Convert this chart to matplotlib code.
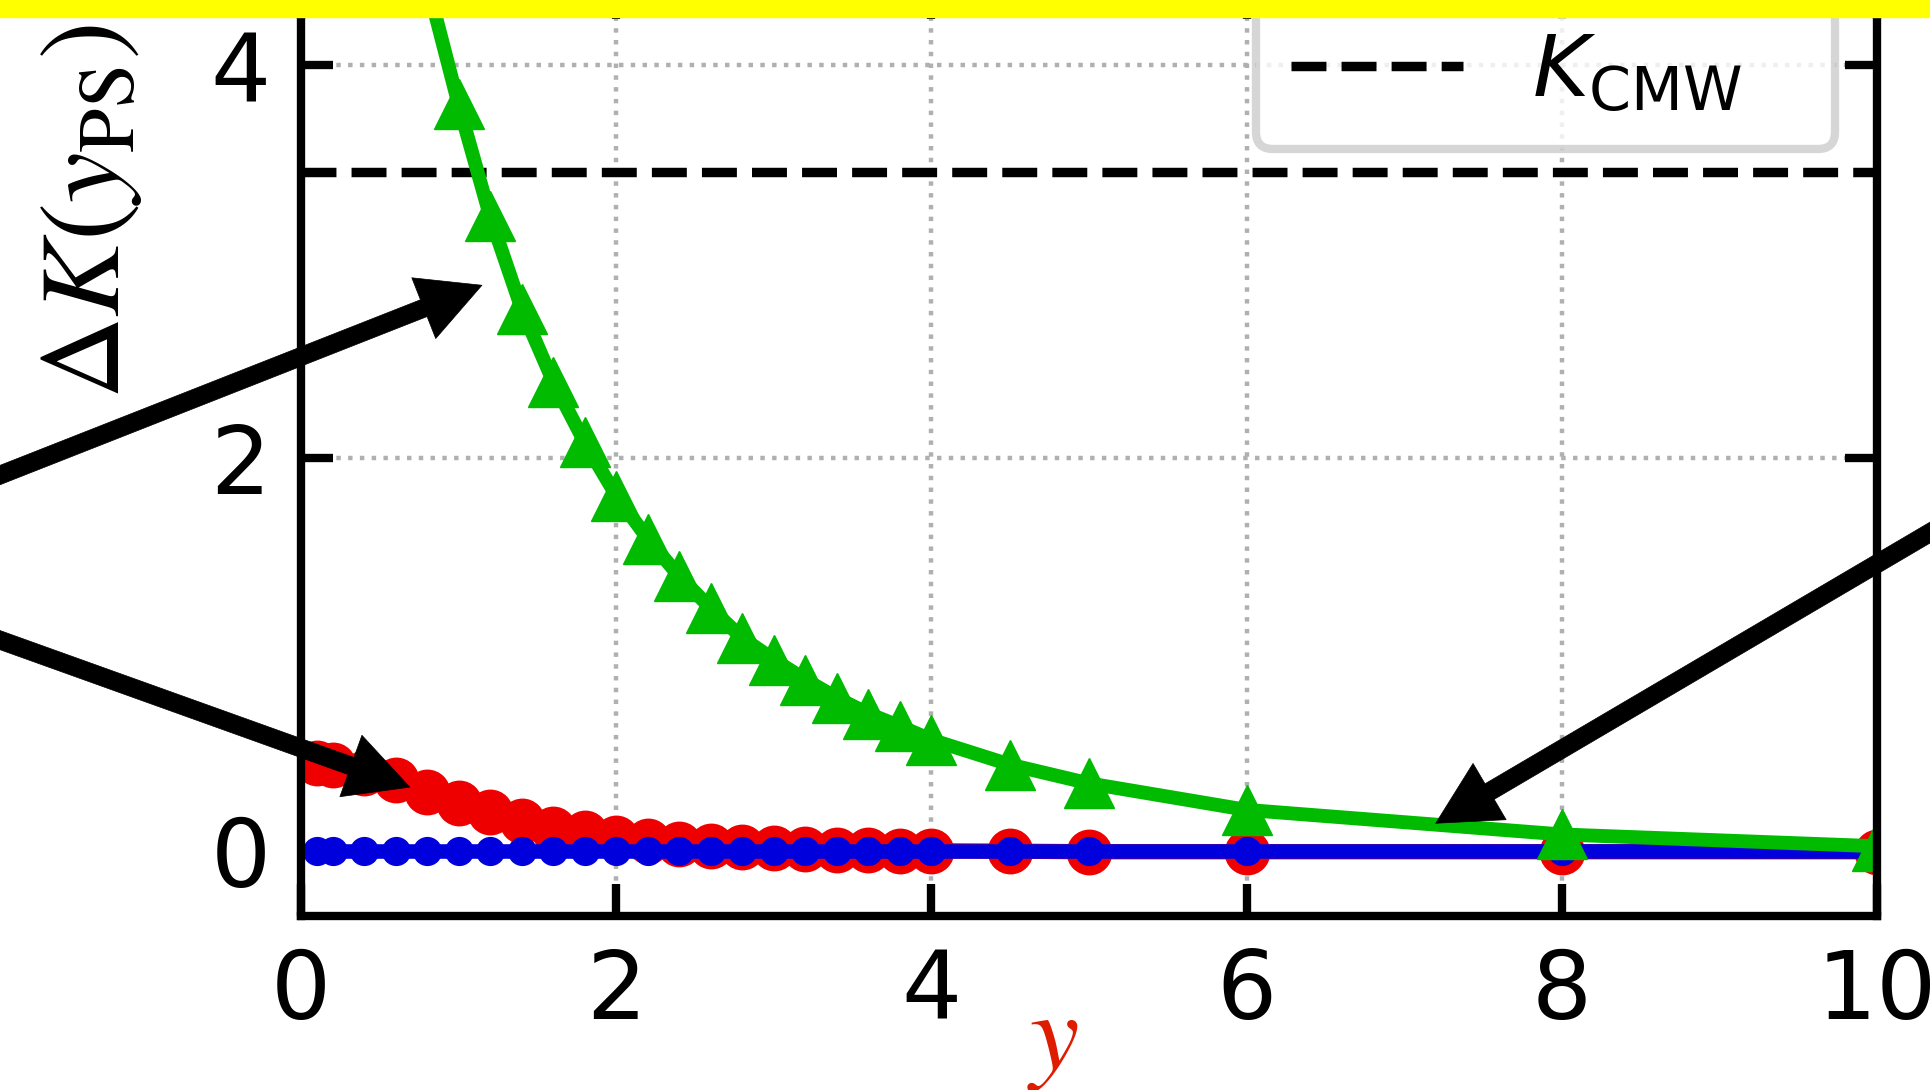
import matplotlib
matplotlib.use("Agg")
import matplotlib.pyplot as plt
from matplotlib.patches import Rectangle

# ---- data -------------------------------------------------------------
y_grid = [0.1, 0.2, 0.4, 0.6, 0.8, 1.0, 1.2, 1.4, 1.6, 1.8, 2.0, 2.2, 2.4,
          2.6, 2.8, 3.0, 3.2, 3.4, 3.6, 3.8, 4.0, 4.5, 5.0, 6.0, 8.0, 10.0]
dk_red = [0.45, 0.44, 0.40, 0.36, 0.30, 0.245, 0.20, 0.155, 0.115, 0.09,
          0.067, 0.052, 0.036, 0.028, 0.021, 0.016, 0.011, 0.008, 0.005,
          0.003, 0.002, 0.0, -0.003, -0.003, -0.003, -0.003]
dk_blue = [0.0] * len(y_grid)

y_green = [0.8, 1.0, 1.2, 1.4, 1.6, 1.8, 2.0, 2.2, 2.4, 2.6, 2.8, 3.0, 3.2,
           3.4, 3.6, 3.8, 4.0, 4.5, 5.0, 6.0, 8.0, 10.0]
dk_green = [4.42, 3.80, 3.23, 2.76, 2.39, 2.08, 1.81, 1.59, 1.40, 1.236,
            1.085, 0.975, 0.873, 0.78, 0.70, 0.636, 0.567, 0.44, 0.345,
            0.21, 0.085, 0.025]

K_CMW = 3.454

x_ticks = [0, 2, 4, 6, 8, 10]
y_ticks = [0, 2, 4]

# arrow tips (data) and tails (figure pixels, off-canvas)
arrow_tips = [(1.148, 2.880), (0.690, 0.326), (7.200, 0.142)]
arrow_tails = [(-400, 457.4), (-400, 593.4), (2331, 793.2)]

# ---- figure -----------------------------------------------------------
W, H = 1931, 1090
fig = plt.figure(figsize=(W / 100, H / 100), dpi=100)
fig.patch.set_facecolor("white")

ax = fig.add_axes([301 / W, 174 / H, 1576 / W, 929.4 / H])
ax.set_xlim(0, 10)
ax.set_ylim(-0.33, 4.4)

RED = "#ee0000"
BLUE = "#0000dd"
GREEN = "#00bb00"

kline, = ax.plot([0, 10], [K_CMW, K_CMW], ls="--", color="k", lw=6.8,
                 label=r"$K_{\rm CMW}$")
ax.plot(y_grid, dk_red, color=RED, lw=11, marker="o", ms=32, mec=RED)
ax.plot(y_grid, dk_blue, color=BLUE, lw=10.5, marker="o", ms=20, mec=BLUE)
ax.plot(y_green, dk_green, color=GREEN, lw=10, marker="^", ms=36, mec=GREEN)

ax.set_xticks(x_ticks)
ax.set_yticks(y_ticks)
ax.grid(True, ls=":", color="#b0b0b0", lw=3.2)
ax.tick_params(direction="in", length=23, width=6, labelsize=68, pad=22,
               top=True, right=True)
for sp in ax.spines.values():
    sp.set_linewidth(6)

ax.set_ylabel(r"$\Delta K(y_{\rm PS})$", fontsize=82, math_fontfamily="stix")
ax.yaxis.set_label_coords(-0.0996, 0.7575)
ax.set_xlabel(r"$y$", fontsize=80, color="#dd1c00", math_fontfamily="stix")
ax.xaxis.set_label_coords(0.477, -0.0764)

leg = ax.legend(handles=[kline], loc="lower left",
                bbox_to_anchor=(6.06, 3.574, 3.674, 0),
                bbox_transform=ax.transData, mode="expand",
                borderaxespad=0, fontsize=62, fancybox=True, framealpha=0.8)
leg.get_frame().set_linewidth(6)

for tip, tail in zip(arrow_tips, arrow_tails):
    ax.annotate("", xy=tip, xycoords="data", xytext=tail,
                textcoords="figure pixels",
                arrowprops=dict(facecolor="k", edgecolor="k", lw=0.5,
                                width=13, headwidth=47, headlength=45,
                                shrink=0.0),
                zorder=6)

# highlight band along the top edge
fig.add_artist(Rectangle((0, 1 - 17 / H), 1, 17 / H,
                         transform=fig.transFigure, color="#ffff00",
                         zorder=10))

fig.savefig("out.png", dpi=100)
